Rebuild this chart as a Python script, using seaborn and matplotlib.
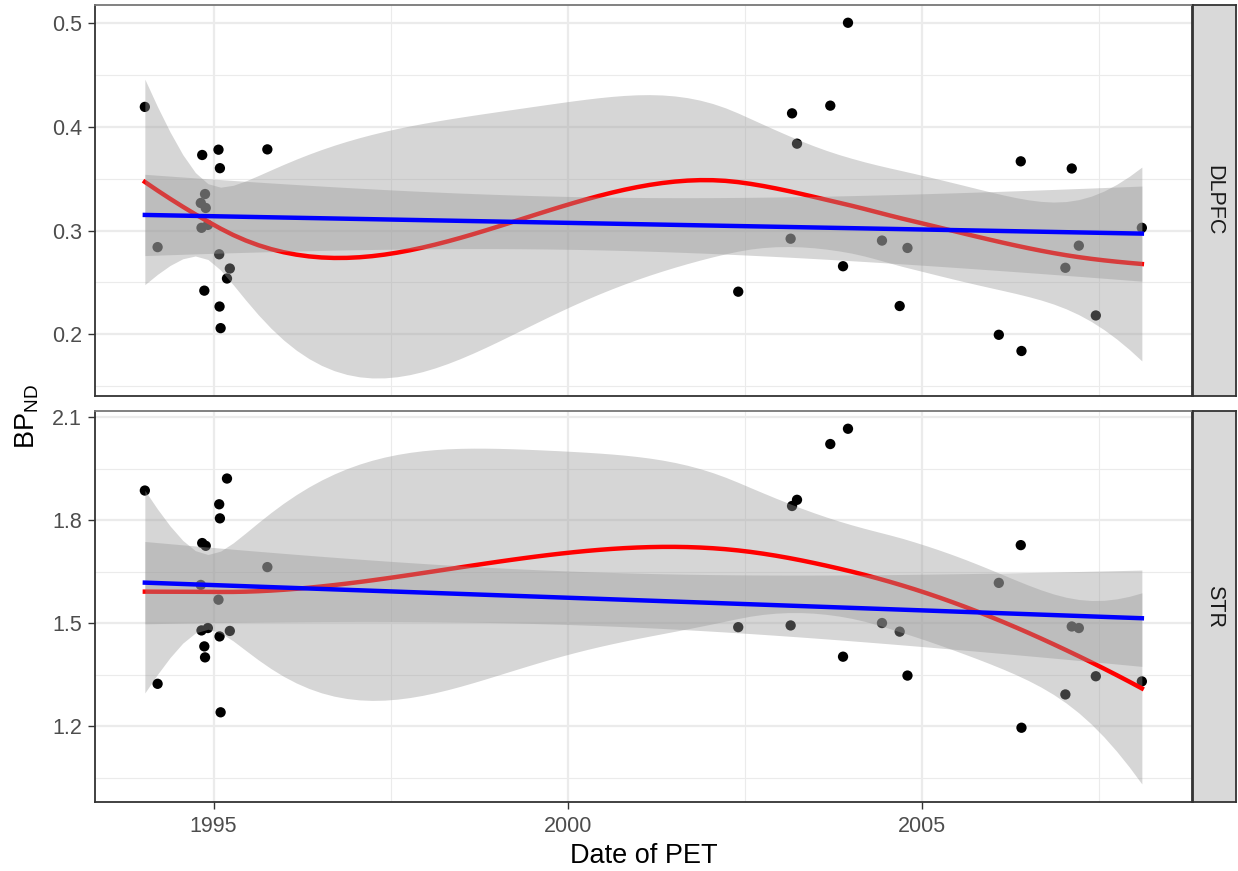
import math
import numpy as np
import pandas as pd
import matplotlib
matplotlib.use("Agg")
import matplotlib.pyplot as plt
import seaborn as sns

# ---------------- data ----------------
pet_year = [1994.03, 1994.21, 1994.82, 1994.83, 1994.84, 1994.87, 1994.88, 1994.89,
            1994.92, 1995.07, 1995.08, 1995.085, 1995.09, 1995.10, 1995.19, 1995.23,
            1995.76, 2002.41, 2003.15, 2003.17, 2003.24, 2003.71, 2003.89, 2003.96,
            2004.44, 2004.69, 2004.80, 2006.09, 2006.40, 2006.41, 2007.03, 2007.12,
            2007.22, 2007.46, 2008.11]
bp_dlpfc = [0.419, 0.284, 0.3265, 0.3026, 0.3727, 0.2421, 0.3351, 0.3217,
            0.3054, 0.3778, 0.2771, 0.2268, 0.360, 0.206, 0.2538, 0.2634,
            0.3781, 0.2411, 0.2921, 0.4128, 0.3836, 0.4202, 0.2656, 0.500,
            0.2903, 0.2273, 0.2832, 0.1996, 0.3666, 0.184, 0.2641, 0.3597,
            0.2854, 0.2182, 0.3026]
bp_str = [1.886, 1.323, 1.611, 1.4785, 1.733, 1.432, 1.400, 1.725,
          1.4855, 1.568, 1.846, 1.461, 1.805, 1.240, 1.921, 1.477,
          1.663, 1.488, 1.493, 1.841, 1.859, 2.0215, 1.402, 2.066,
          1.500, 1.475, 1.347, 1.617, 1.727, 1.195, 1.292, 1.490,
          1.4855, 1.345, 1.330]
regions = ["DLPFC", "STR"]
y_breaks = {"DLPFC": [0.2, 0.3, 0.4, 0.5], "STR": [1.2, 1.5, 1.8, 2.1]}
x_breaks = [1995, 2000, 2005]
x_tick_labels = ["1995", "2000", "2005"]

df = pd.DataFrame({
    "year": pet_year * 2,
    "bp": bp_dlpfc + bp_str,
    "region": ["DLPFC"] * len(pet_year) + ["STR"] * len(pet_year),
})

# ---------------- statistics helpers ----------------
def t_quantile(p, dof):
    grid = np.linspace(0, 40, 400001)
    c = math.lgamma((dof + 1) / 2) - math.lgamma(dof / 2) - 0.5 * math.log(dof * math.pi)
    pdf = np.exp(c) * (1 + grid ** 2 / dof) ** (-(dof + 1) / 2)
    cdf = 0.5 + np.concatenate([[0], np.cumsum((pdf[1:] + pdf[:-1]) / 2 * np.diff(grid))])
    return float(np.interp(p, cdf, grid))


def local_rows(x, x0, q):
    d = np.abs(x - x0)
    h = np.sort(d)[q - 1]
    r = d / h
    w = np.where(r < 1, (1 - r ** 3) ** 3, 0.0)
    X = np.column_stack([np.ones_like(x), x - x0, (x - x0) ** 2])
    XtW = X.T * w
    B = np.linalg.solve(XtW @ X, XtW)
    return B[0], B[1]


def loess_operator(x, xe, span=0.75, cell=0.2):
    """R-style loess (degree 2) with kd-tree vertices and cubic Hermite interpolation."""
    n = len(x)
    q = int(math.floor(n * span))
    fc = int(math.floor(n * span * cell))
    xs = np.sort(x)
    lo, hi = xs[0], xs[-1]
    mu = 0.005 * (hi - lo)
    leaves = []

    def build(l, u, a, b):
        if u - l + 1 <= fc:
            leaves.append((a, b))
            return
        m = (l + u) // 2
        t = xs[m]
        if t == a or t == b:
            leaves.append((a, b))
            return
        build(l, m, a, t)
        build(m + 1, u, t, b)

    build(0, n - 1, lo - mu, hi + mu)
    verts = sorted(set([v for lf in leaves for v in lf]))
    vrows = {v: local_rows(x, v, q) for v in verts}

    def row(x0):
        for a, b in leaves:
            if a <= x0 <= b:
                break
        h = b - a
        u = (x0 - a) / h
        phi0 = (1 - u) ** 2 * (1 + 2 * u)
        phi1 = u ** 2 * (3 - 2 * u)
        psi0 = u * (1 - u) ** 2
        psi1 = -u ** 2 * (1 - u)
        g0, s0 = vrows[a]
        g1, s1 = vrows[b]
        return phi0 * g0 + phi1 * g1 + (psi0 * s0 + psi1 * s1) * h

    L = np.array([row(v) for v in x])
    Le = np.array([row(v) for v in xe])
    return L, Le


def loess_band(x, y, xe):
    L, Le = loess_operator(x, xe)
    res = y - L @ y
    M = np.eye(len(x)) - L
    MM = M.T @ M
    d1 = np.trace(MM)
    d2 = np.trace(MM @ MM)
    s = math.sqrt(np.sum(res ** 2) / d1)
    fit = Le @ y
    se = s * np.sqrt(np.sum(Le ** 2, axis=1))
    tq = t_quantile(0.975, d1 ** 2 / d2)
    return fit, fit - tq * se, fit + tq * se


def lm_band(x, y, xe):
    n = len(x)
    b1, b0 = np.polyfit(x, y, 1)
    res = y - (b0 + b1 * x)
    s = math.sqrt(np.sum(res ** 2) / (n - 2))
    xm = x.mean()
    sxx = np.sum((x - xm) ** 2)
    fit = b0 + b1 * xe
    se = s * np.sqrt(1 / n + (xe - xm) ** 2 / sxx)
    tq = t_quantile(0.975, n - 2)
    return fit, fit - tq * se, fit + tq * se

# ---------------- figure ----------------
W, H = 1238, 871
plt.rcParams["font.family"] = ["Liberation Sans", "DejaVu Sans"]
plt.rcParams["mathtext.default"] = "regular"
fig = plt.figure(figsize=(W / 100, H / 100), dpi=100)

px_left, px_right = 95, 1191.7
panels_px = {"DLPFC": (5, 395.7), "STR": (411, 801.7)}
strip_px = (1192.5, 1235.7)

x_lo, x_hi = min(pet_year), max(pet_year)
x_pad = 0.05 * (x_hi - x_lo)

for reg in regions:
    top_px, bot_px = panels_px[reg]
    ax = fig.add_axes([px_left / W, 1 - bot_px / H, (px_right - px_left) / W, (bot_px - top_px) / H])
    sub = df[df.region == reg]
    x = sub.year.to_numpy(float)
    y = sub.bp.to_numpy(float)
    xe = np.linspace(x.min(), x.max(), 80)
    lf, llo, lhi = loess_band(x, y, xe)
    mf, mlo, mhi = lm_band(x, y, xe)

    sns.scatterplot(x=x, y=y, ax=ax, color="black", s=55, edgecolor="none", zorder=2, legend=False)
    ax.fill_between(xe, llo, lhi, color="#999999", alpha=0.4, linewidth=0, zorder=3)
    sns.lineplot(x=xe, y=lf, ax=ax, color="red", linewidth=3.2, sort=False, estimator=None, zorder=4)
    ax.fill_between(xe, mlo, mhi, color="#999999", alpha=0.4, linewidth=0, zorder=5)
    sns.lineplot(x=xe, y=mf, ax=ax, color="blue", linewidth=3.2, sort=False, estimator=None, zorder=6)

    yb = y_breaks[reg]
    step = yb[1] - yb[0]
    ax.set_yticks(yb)
    ax.set_yticklabels([f"{v:g}" for v in yb])
    ax.set_yticks([v - step / 2 for v in yb] + [yb[-1] + step / 2], minor=True)
    ax.set_xticks(x_breaks)
    ax.set_xticks([b + 2.5 for b in x_breaks], minor=True)

    ymin = min(y.min(), llo.min(), mlo.min())
    ymax = max(y.max(), lhi.max(), mhi.max())
    ypad = 0.05 * (ymax - ymin)
    ax.set_ylim(ymin - ypad, ymax + ypad)
    ax.set_xlim(x_lo - x_pad, x_hi + x_pad)

    ax.grid(True, which="major", color="#ebebeb", linewidth=1.6, zorder=0)
    ax.grid(True, which="minor", color="#ebebeb", linewidth=0.8, zorder=0)
    ax.set_axisbelow(True)
    ax.tick_params(axis="y", which="major", length=5, width=1.0, color="#333333",
                   labelsize=15.5, labelcolor="#4d4d4d", pad=4.5)
    ax.tick_params(which="minor", length=0)
    if reg == regions[-1]:
        ax.set_xticklabels(x_tick_labels)
        ax.tick_params(axis="x", which="major", length=5, width=1.0, color="#333333",
                       labelsize=15.5, labelcolor="#4d4d4d", pad=5.5)
    else:
        ax.tick_params(axis="x", which="major", length=0, labelbottom=False)
    for side, sp in ax.spines.items():
        sp.set_color("#333333")
        sp.set_linewidth(1.3)
    ax.spines["top"].set_color("#777777")
    ax.set_xlabel("")
    ax.set_ylabel("")

    # facet strip
    sax = fig.add_axes([strip_px[0] / W, 1 - bot_px / H, (strip_px[1] - strip_px[0]) / W, (bot_px - top_px) / H])
    sax.set_facecolor("#d9d9d9")
    sax.set_xticks([])
    sax.set_yticks([])
    for sp in sax.spines.values():
        sp.set_color("#333333")
        sp.set_linewidth(1.3)
    sax.text(0.5, 0.5, reg, rotation=-90, ha="center", va="center", fontsize=15.5,
             color="#1a1a1a", transform=sax.transAxes)

fig.text((px_left + px_right) / 2 / W, 1 - 856 / H, "Date of PET", ha="center", va="center",
         fontsize=19.5, color="black")
fig.text(27 / W, 1 - 417 / H, r"$\mathregular{BP_{ND}}$", rotation=90, ha="center", va="center",
         fontsize=19.5, color="black")

fig.savefig("out.png", dpi=100, facecolor="white")
